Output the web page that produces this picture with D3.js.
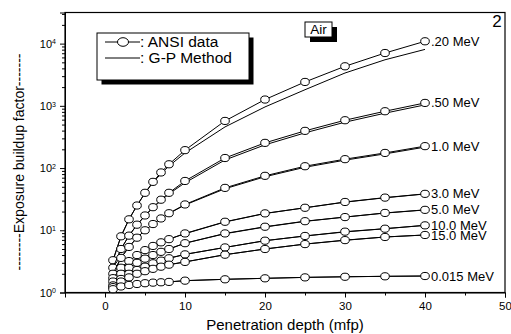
<!DOCTYPE html>
<html>
<head>
<meta charset="utf-8">
<script src="https://cdn.jsdelivr.net/npm/d3@7"></script>
<style>
  body { margin: 0; background: #fff; }
  svg { font-family: "Liberation Sans", Arial, sans-serif; }
</style>
</head>
<body>
<div id="chart"></div>
<script>
// penetration depths (mfp)
var depth = [1, 2, 3, 4, 5, 6, 7, 8, 10, 15, 20, 25, 30, 35, 40];

// ANSI data, one array per energy
var ansi020 = [3.3, 8.0, 15, 25, 40, 60, 85, 115, 194, 572, 1262, 2420, 4320, 7060, 10900];
var ansi050 = [2.5, 5.0, 8.2, 12.3, 17.3, 23.5, 31, 40, 62, 145, 254, 396, 587, 819, 1114];
var ansi100 = [2.0, 3.6, 5.4, 7.6, 10, 12.6, 15.5, 18.8, 26, 48, 75, 107, 139, 175, 225];
var ansi300 = [1.7, 2.5, 3.2, 4.0, 4.8, 5.6, 6.4, 7.2, 8.9, 13.7, 18.7, 23, 28.5, 33.5, 38.5];
var ansi500 = [1.5, 2.0, 2.5, 3.0, 3.5, 4.0, 4.5, 5.0, 6.2, 8.9, 11.4, 14.0, 16.3, 19.0, 21.3];
var ansi1000 = [1.3, 1.65, 2.0, 2.3, 2.6, 2.95, 3.25, 3.55, 4.1, 5.3, 6.8, 8.1, 9.5, 10.6, 12.0];
var ansi1500 = [1.22, 1.5, 1.75, 2.0, 2.2, 2.4, 2.6, 2.8, 3.1, 4.05, 5.0, 6.0, 6.95, 7.8, 8.4];
var ansi0015 = [1.13, 1.25, 1.32, 1.37, 1.41, 1.44, 1.46, 1.48, 1.55, 1.63, 1.69, 1.75, 1.79, 1.82, 1.84];

// G-P method values
var gp020 = [3.3, 8.0, 15, 25, 39.5, 58.5, 81, 108, 175, 458, 960, 1815, 3370, 5500, 8070];
var gp050 = [2.5, 5.0, 8.2, 12.2, 17, 23, 30, 38.5, 58, 135, 236, 368, 546, 762, 1036];
var gp100 = [2.0, 3.6, 5.4, 7.6, 10, 12.6, 15.4, 18.6, 25.5, 46.5, 72.5, 103, 134, 169, 217];
var gp300 = [1.7, 2.5, 3.2, 4.0, 4.8, 5.6, 6.4, 7.2, 8.8, 13.6, 18.6, 23, 28.3, 33.3, 38.3];
var gp500 = [1.5, 2.0, 2.5, 3.0, 3.5, 4.0, 4.5, 5.0, 6.2, 8.8, 11.3, 13.9, 16.3, 18.9, 21.2];
var gp1000 = [1.3, 1.65, 2.0, 2.3, 2.6, 2.95, 3.25, 3.55, 4.1, 5.3, 6.8, 8.1, 9.4, 10.6, 12.0];
var gp1500 = [1.22, 1.5, 1.75, 2.0, 2.2, 2.4, 2.6, 2.8, 3.1, 4.05, 5.0, 6.0, 6.9, 7.8, 8.4];
var gp0015 = [1.13, 1.25, 1.32, 1.37, 1.41, 1.44, 1.46, 1.48, 1.55, 1.63, 1.69, 1.75, 1.79, 1.82, 1.84];

var energyLabels = [".20 MeV", ".50 MeV", "1.0 MeV", "3.0 MeV", "5.0 MeV", "10.0 MeV", "15.0 MeV", "0.015 MeV"];
var ansiSeries = [ansi020, ansi050, ansi100, ansi300, ansi500, ansi1000, ansi1500, ansi0015];
var gpSeries = [gp020, gp050, gp100, gp300, gp500, gp1000, gp1500, gp0015];

var xTicks = [0, 10, 20, 30, 40, 50];
var yTicks = [1, 10, 100, 1000, 10000];

var width = 511, height = 334;
var plotLeft = 65, plotRight = 505, plotTop = 12.5, plotBottom = 292.5;

var svg = d3.select("#chart").append("svg")
  .attr("width", width)
  .attr("height", height);

var x = d3.scaleLinear().domain([-5, 50]).range([plotLeft, plotRight]);
var y = d3.scaleLog().domain([1, Math.pow(10, 4.5)]).range([plotBottom, plotTop]);

// minor ticks
var yMinor = [];
for (var p = 0; p < 5; p++) {
  for (var m = 2; m <= 9; m++) {
    var v = m * Math.pow(10, p);
    if (v <= Math.pow(10, 4.5)) yMinor.push(v);
  }
}
var xMinor = [5, 15, 25, 35, 45];

svg.append("g")
  .attr("transform", `translate(${plotLeft},0)`)
  .call(d3.axisLeft(y).tickValues(yMinor).tickSize(3).tickFormat(""))
  .call(g => g.select(".domain").remove());

var yAxis = svg.append("g")
  .attr("transform", `translate(${plotLeft},0)`)
  .call(d3.axisLeft(y).tickValues(yTicks).tickSize(5).tickPadding(8).tickFormat(""));
yAxis.selectAll(".tick text").remove();
yAxis.selectAll(".tick").append("text")
  .attr("x", -9)
  .attr("dy", "0.32em")
  .attr("text-anchor", "end")
  .attr("fill", "#000")
  .style("font-size", "11px")
  .each(function (d) {
    var t = d3.select(this);
    t.append("tspan").text("10");
    t.append("tspan").attr("dy", "-0.45em").style("font-size", "7px").text(Math.round(Math.log10(d)));
  });

svg.append("g")
  .attr("transform", `translate(0,${plotBottom})`)
  .call(d3.axisBottom(x).tickValues(xMinor).tickSize(3).tickFormat(""))
  .call(g => g.select(".domain").remove());

svg.append("g")
  .attr("transform", `translate(0,${plotBottom})`)
  .call(d3.axisBottom(x).tickValues(xTicks).tickSize(5).tickPadding(4))
  .selectAll("text")
  .style("font-size", "11.5px");

svg.selectAll(".domain, .tick line").attr("stroke", "#000");

// frame
svg.append("rect")
  .attr("x", plotLeft).attr("y", plotTop)
  .attr("width", plotRight - plotLeft).attr("height", plotBottom - plotTop)
  .attr("fill", "none").attr("stroke", "#000").attr("stroke-width", 1.2);

var line = d3.line()
  .x((d, i) => x(depth[i]))
  .y(d => y(d));

// G-P method lines
gpSeries.forEach(function (s) {
  svg.append("path")
    .datum(s)
    .attr("fill", "none")
    .attr("stroke", "#000")
    .attr("stroke-width", 1)
    .attr("d", line);
});

// ANSI lines + circles
ansiSeries.forEach(function (s, k) {
  svg.append("path")
    .datum(s)
    .attr("fill", "none")
    .attr("stroke", "#000")
    .attr("stroke-width", 1)
    .attr("d", line);
  svg.selectAll(null)
    .data(s)
    .enter().append("ellipse")
    .attr("cx", (d, i) => x(depth[i]))
    .attr("cy", d => y(d))
    .attr("rx", 4.3)
    .attr("ry", 3.6)
    .attr("fill", "#fff")
    .attr("stroke", "#000")
    .attr("stroke-width", 1);
  var last = s[s.length - 1];
  svg.append("text")
    .attr("x", x(depth[depth.length - 1]) + 6)
    .attr("y", y(last))
    .attr("dy", "0.35em")
    .style("font-size", "13px")
    .text(energyLabels[k]);
});

// legend
var lg = svg.append("g");
lg.append("rect").attr("x", 101.5).attr("y", 37.5).attr("width", 152).attr("height", 47).attr("fill", "#000");
lg.append("rect").attr("x", 97).attr("y", 33).attr("width", 152).attr("height", 47)
  .attr("fill", "#fff").attr("stroke", "#000").attr("stroke-width", 1);
lg.append("line").attr("x1", 105).attr("x2", 140).attr("y1", 42).attr("y2", 42).attr("stroke", "#000");
lg.append("ellipse").attr("cx", 123).attr("cy", 42).attr("rx", 5.5).attr("ry", 4.3)
  .attr("fill", "#fff").attr("stroke", "#000");
lg.append("line").attr("x1", 105).attr("x2", 140).attr("y1", 58).attr("y2", 58).attr("stroke", "#000");
lg.append("text").attr("x", 140).attr("y", 42).attr("dy", "0.35em").style("font-size", "15.5px").text(": ANSI data");
lg.append("text").attr("x", 140).attr("y", 58).attr("dy", "0.35em").style("font-size", "15.5px").text(": G-P Method");

// "Air" box
svg.append("rect").attr("x", 310).attr("y", 27).attr("width", 27).attr("height", 15).attr("fill", "#000");
svg.append("rect").attr("x", 305).attr("y", 22).attr("width", 27).attr("height", 15)
  .attr("fill", "#fff").attr("stroke", "#000").attr("stroke-width", 1);
svg.append("text").attr("x", 318.5).attr("y", 29.5).attr("dy", "0.35em")
  .attr("text-anchor", "middle").style("font-size", "13.5px").text("Air");

svg.append("text").attr("x", 497).attr("y", 27).attr("text-anchor", "middle")
  .style("font-size", "17px").text("2");

// axis titles
svg.append("text")
  .attr("x", (plotLeft + plotRight) / 2)
  .attr("y", 330)
  .attr("text-anchor", "middle")
  .style("font-size", "15px")
  .text("Penetration depth (mfp)");

svg.append("text")
  .attr("transform", "translate(24,162) rotate(-90)")
  .attr("text-anchor", "middle")
  .style("font-size", "14px")
  .text("--------Exposure buildup factor-------");
</script>
</body>
</html>
